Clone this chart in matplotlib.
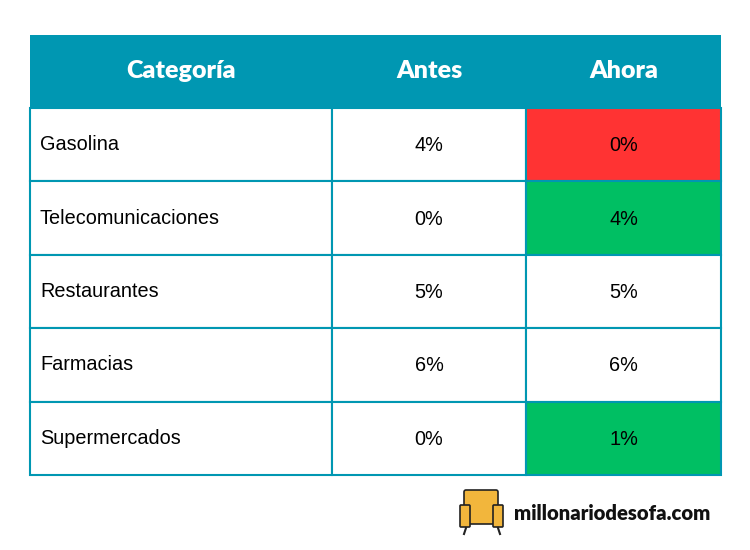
import matplotlib.pyplot as plt
from matplotlib.patches import Rectangle, FancyBboxPatch

headers = ["Categoría", "Antes", "Ahora"]
categorias = ["Gasolina", "Telecomunicaciones", "Restaurantes", "Farmacias", "Supermercados"]
antes = ["4%", "0%", "5%", "6%", "0%"]
ahora = ["0%", "4%", "5%", "6%", "1%"]
ahora_color = ["#FF3333", "#00BF63", "white", "white", "#00BF63"]

teal = "#0097B2"
fig = plt.figure(figsize=(7.5, 5.5), dpi=100)
ax = fig.add_axes([0, 0, 1, 1])
ax.set_xlim(0, 750)
ax.set_ylim(550, 0)
ax.axis("off")

col_x = [30, 332, 526, 721]
top, head_h, row_h = 35, 73, 73.4

# header
ax.add_patch(Rectangle((col_x[0], top), col_x[-1] - col_x[0], head_h, color=teal, lw=0))
for j, h in enumerate(headers):
    ax.text((col_x[j] + col_x[j + 1]) / 2, top + head_h / 2, h, color="white",
            fontsize=18, fontweight="heavy", family="Lato", ha="center", va="center")

for i, cat in enumerate(categorias):
    y = top + head_h + i * row_h
    fills = ["white", "white", ahora_color[i]]
    vals = [cat, antes[i], ahora[i]]
    for j in range(3):
        ax.add_patch(Rectangle((col_x[j], y), col_x[j + 1] - col_x[j], row_h,
                               facecolor=fills[j], edgecolor=teal, lw=1.5))
        if j == 0:
            ax.text(col_x[0] + 10, y + row_h / 2, vals[j], fontsize=14.3,
                    family="Liberation Sans", ha="left", va="center")
        else:
            ax.text((col_x[j] + col_x[j + 1]) / 2, y + row_h / 2 + 1, vals[j], fontsize=14.3,
                    family="Liberation Sans", ha="center", va="center")

# logo: simple armchair
ax.add_patch(FancyBboxPatch((466, 492), 30, 30, boxstyle="round,pad=2", fc="#F2B63C", ec="#222", lw=1.2))
ax.add_patch(FancyBboxPatch((461, 506), 8, 20, boxstyle="round,pad=1", fc="#F2B63C", ec="#222", lw=1.2))
ax.add_patch(FancyBboxPatch((494, 506), 8, 20, boxstyle="round,pad=1", fc="#F2B63C", ec="#222", lw=1.2))
ax.plot([466, 464], [528, 534], color="#222", lw=1.5)
ax.plot([498, 500], [528, 534], color="#222", lw=1.5)
ax.text(514, 513, "millonariodesofa.com", fontsize=14.6, fontweight="heavy",
        family="Lato", ha="left", va="center", color="#111")

fig.savefig("out.png", dpi=100, facecolor="white")
